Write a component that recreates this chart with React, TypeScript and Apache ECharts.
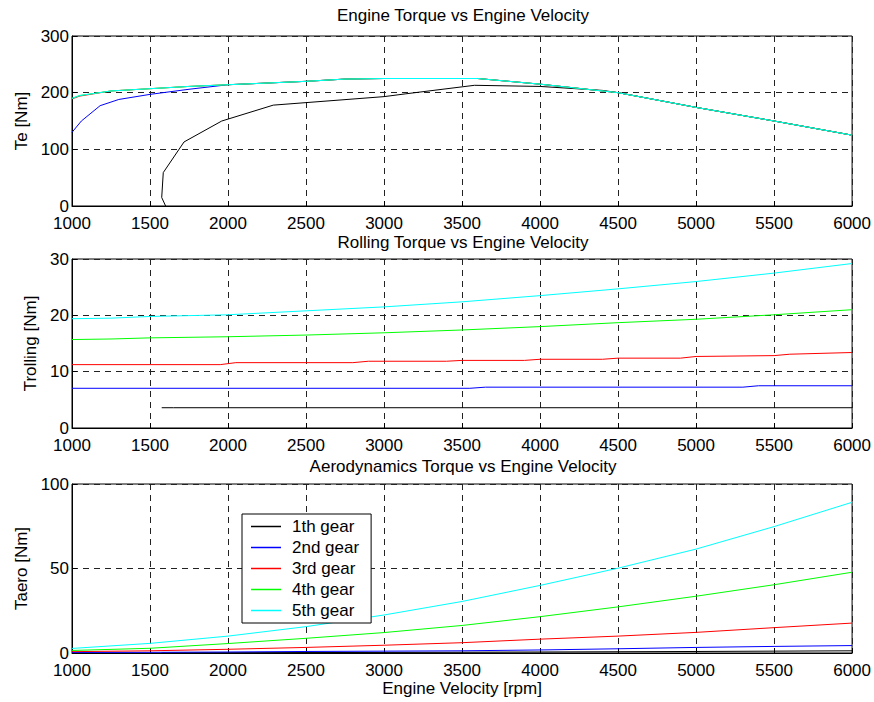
import React, { useEffect, useRef } from "react";
import * as echarts from "echarts";

const gearNames = ["1th gear", "2nd gear", "3rd gear", "4th gear", "5th gear"];
const gearColors = ["#000000", "#0000ff", "#ff0000", "#00ff00", "#00ffff"];

const xTicks = [1000, 1500, 2000, 2500, 3000, 3500, 4000, 4500, 5000, 5500, 6000];

// Engine torque
const teRpm1 = [1600, 1575, 1585, 1718, 1960, 2290, 3000, 3140, 3580, 4000, 4400, 4500, 5000, 5500, 6000];
const teVal1 = [0, 15, 59, 113, 150, 178, 193, 198, 213, 211, 204, 200, 174, 150, 125];
const teRpm2 = [1000, 1060, 1180, 1300, 1500, 1750, 2000, 2250, 2500, 2750, 3000, 3600, 4000, 4500, 5000, 5500, 6000];
const teVal2 = [130, 150, 177, 188, 197, 206, 214, 217, 220, 224, 225, 225, 215, 200, 174, 150, 125];
const teRpm3 = [1000, 1050, 1250, 1500, 1750, 2000, 2250, 2500, 2750, 3000, 3600, 4000, 4500, 5000, 5500, 6000];
const teVal3 = [189, 194, 203, 207, 211, 214, 217, 220, 224, 225, 225, 215, 200, 174, 150, 125];
const teVal4 = [190, 195, 203, 207, 211, 214, 217, 220, 224, 225, 225, 215, 200, 174, 150, 125];
const teVal5 = [190, 195, 203, 207, 211, 214, 217, 220, 224, 225, 225, 215, 200, 174, 150, 125];

// Rolling torque
const trRpm1 = [1575, 1650, 6000];
const trVal1 = [3.6, 3.6, 3.6];
const trRpm2 = [1000, 3550, 3650, 5300, 5400, 6000];
const trVal2 = [7.05, 7.05, 7.25, 7.25, 7.5, 7.5];
const trRpm3 = [1000, 1950, 2050, 2800, 2900, 3400, 3500, 3900, 4000, 4400, 4500, 4900, 5000, 5500, 5600, 6000];
const trVal3 = [11.25, 11.25, 11.6, 11.6, 11.85, 11.85, 12.0, 12.0, 12.2, 12.2, 12.4, 12.4, 12.7, 12.85, 13.1, 13.4];
const trRpm45 = [1000, 1250, 1500, 2000, 2500, 3000, 3500, 4000, 4500, 5000, 5500, 6000];
const trVal4 = [15.7, 15.8, 16.0, 16.2, 16.5, 16.9, 17.4, 18.0, 18.7, 19.3, 20.1, 21.0];
const trVal5 = [19.4, 19.5, 19.8, 20.1, 20.8, 21.5, 22.4, 23.5, 24.7, 26.0, 27.5, 29.2];

// Aerodynamic torque
const taRpm1 = [1575, 2000, 3000, 4000, 5000, 6000];
const taVal1 = [0.1, 0.15, 0.35, 0.6, 0.9, 1.3];
const taVal2 = [0.3, 0.4, 0.6, 0.9, 1.1, 1.3, 1.8, 2.5, 3.3, 3.9, 4.4];
const taVal3 = [0.8, 1.3, 2.2, 3.3, 4.6, 6.1, 8.2, 10.0, 12.2, 15.0, 17.7];
const taVal4 = [1.5, 2.8, 5.6, 8.7, 12.1, 16.3, 21.5, 27.3, 33.6, 40.4, 47.8];
const taVal5 = [2.7, 5.7, 10.0, 15.6, 22.5, 30.5, 40.0, 50.2, 61.5, 74.8, 89.2];

const titles = [
  "Engine Torque vs Engine Velocity",
  "Rolling Torque vs Engine Velocity",
  "Aerodynamics Torque vs Engine Velocity",
];
const yNames = ["Te [Nm]", "Trolling [Nm]", "Taero [Nm]"];
const yMax = [300, 30, 100];
const yInterval = [100, 10, 50];
const xName = "Engine Velocity [rpm]";

const zip = (xs: number[], ys: number[]) => xs.map((x, i) => [x, ys[i]]);

const plotData: number[][][][] = [
  [zip(teRpm1, teVal1), zip(teRpm2, teVal2), zip(teRpm3, teVal3), zip(teRpm3, teVal4), zip(teRpm3, teVal5)],
  [zip(trRpm1, trVal1), zip(trRpm2, trVal2), zip(trRpm3, trVal3), zip(trRpm45, trVal4), zip(trRpm45, trVal5)],
  [zip(taRpm1, taVal1), zip(xTicks, taVal2), zip(xTicks, taVal3), zip(xTicks, taVal4), zip(xTicks, taVal5)],
];

const FONT = "'Liberation Sans', Arial, Helvetica, sans-serif";
const FS = 17;

export default function App() {
  const ref = useRef<HTMLDivElement>(null);
  useEffect(() => {
    document.body.style.margin = "0";
    if (!ref.current) return;
    const chart = echarts.init(ref.current, undefined, { renderer: "svg" });
    const gridTops = [36, 259, 484];
    const gridH = [170, 169, 169];
    const titleTops = [7, 234, 458];
    const nameGaps = [42, 33, 42];

    const grids = gridTops.map((t, i) => ({
      left: 72,
      right: 20,
      top: t,
      height: gridH[i],
      show: true,
      borderColor: "#000",
      borderWidth: 1,
      backgroundColor: "#fff",
    }));

    const xAxes = gridTops.map((_, i) => ({
      type: "value",
      gridIndex: i,
      min: 1000,
      max: 6000,
      interval: 500,
      name: i === 2 ? xName : "",
      nameLocation: "middle",
      nameGap: 27,
      nameTextStyle: { fontSize: FS, color: "#000", fontFamily: FONT },
      axisLine: { show: true, lineStyle: { color: "#000", width: 1 } },
      axisTick: { show: true, inside: true, length: 5, lineStyle: { color: "#000" } },
      axisLabel: {
        fontSize: FS,
        color: "#000",
        fontFamily: FONT,
        margin: 9,
        lineHeight: 17,
        formatter: (v: number) => String(v),
      },
      splitLine: { show: true, lineStyle: { color: "#222", type: [6, 5], width: 1 } },
    }));

    const yAxes = gridTops.map((_, i) => ({
      type: "value",
      gridIndex: i,
      min: 0,
      max: yMax[i],
      interval: yInterval[i],
      name: yNames[i],
      nameLocation: "middle",
      nameGap: nameGaps[i],
      nameTextStyle: { fontSize: FS, color: "#000", fontFamily: FONT },
      axisLine: { show: true, lineStyle: { color: "#000", width: 1 } },
      axisTick: { show: true, inside: true, length: 5, lineStyle: { color: "#000" } },
      axisLabel: {
        fontSize: FS,
        color: "#000",
        fontFamily: FONT,
        margin: 3,
        lineHeight: 12,
        padding: [0, 0, 4, 0],
        formatter: (v: number) => String(v),
      },
      splitLine: { show: true, lineStyle: { color: "#222", type: [6, 5], width: 1 } },
    }));

    const series: any[] = [];
    plotData.forEach((plot, p) => {
      plot.forEach((data, g) => {
        series.push({
          type: "line",
          name: gearNames[g],
          xAxisIndex: p,
          yAxisIndex: p,
          data,
          symbol: "none",
          showSymbol: false,
          silent: true,
          lineStyle: { color: gearColors[g], width: 1 },
          itemStyle: { color: gearColors[g] },
        });
      });
    });

    chart.setOption({
      animation: false,
      backgroundColor: "#fff",
      title: titles.map((t, i) => ({
        text: t,
        left: 463,
        textAlign: "center",
        top: titleTops[i],
        padding: 0,
        textStyle: { fontSize: FS, fontWeight: "normal", color: "#000", fontFamily: FONT },
      })),
      legend: {
        data: gearNames,
        orient: "vertical",
        left: 242,
        top: 514,
        padding: [4, 12, 4, 9],
        itemGap: 4,
        itemWidth: 30,
        itemHeight: 1.5,
        icon: "rect",
        backgroundColor: "#fff",
        borderColor: "#000",
        borderWidth: 1,
        textStyle: { fontSize: FS, color: "#000", fontFamily: FONT, padding: [0, 0, 0, 6] },
      },
      grid: grids,
      xAxis: xAxes,
      yAxis: yAxes,
      series,
    });
    return () => chart.dispose();
  }, []);
  return <div ref={ref} style={{ width: 874, height: 702 }} />;
}
